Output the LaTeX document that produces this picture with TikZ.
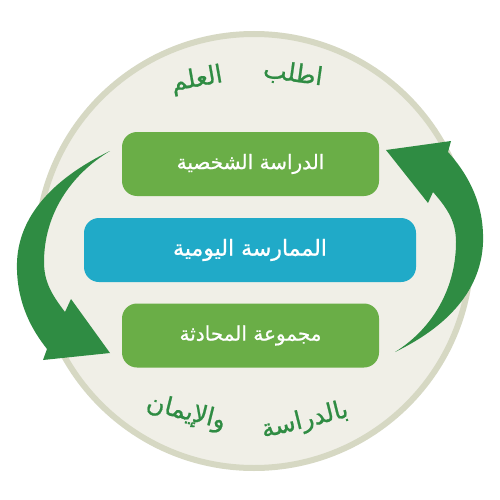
\documentclass[tikz,border=0pt]{standalone}
\usepackage{fontspec}
\newfontfamily\arabicfont[Script=Arabic,FakeBold=0.8]{DejaVu Sans}
\TeXXeTstate=1
\definecolor{ringfill}{HTML}{F0EFE7}
\definecolor{ringline}{HTML}{D6D8C3}
\definecolor{arrowgreen}{HTML}{2F8C43}
\definecolor{boxgreen}{HTML}{6AAE47}
\definecolor{boxblue}{HTML}{20AAC8}
\begin{document}
\begin{tikzpicture}[x=1pt,y=-1pt,
  box/.style={rounded corners=15pt,inner sep=0pt,text=white},
  greenbox/.style={box,fill=boxgreen,minimum width=257pt,minimum height=64pt,font=\arabicfont\fontsize{20}{24}\selectfont},
  bluebox/.style={box,fill=boxblue,minimum width=332pt,minimum height=64pt,font=\arabicfont\fontsize{22}{26}\selectfont},
  motto/.style={text=arrowgreen,inner sep=0pt,font=\arabicfont\fontsize{25}{30}\selectfont},
  bigarrow/.style={fill=arrowgreen,draw=none}]
\fill[white] (0,0) rectangle (500,500);
\useasboundingbox (0,0) rectangle (500,500);
\node[circle,fill=ringfill,draw=ringline,line width=6pt,minimum size=434pt,inner sep=0pt] (ring) at (254,251) {};
\node[greenbox] (study) at (250.5,164) {\beginR الدراسة الشخصية\endR};
\node[bluebox] (practice) at (250,250) {\beginR الممارسة اليومية\endR};
\node[greenbox] (group) at (250.5,335.5) {\beginR مجموعة المحادثة\endR};
\node[motto,rotate=-8] (w1) at (293,74) {\beginR اطلب\endR};
\node[motto,rotate=10] (w2) at (197,80) {\beginR العلم\endR};
\node[motto,rotate=14] (w3) at (305,421) {\beginR بالدراسة\endR};
\node[motto,rotate=-14] (w4) at (186,413) {\beginR والإيمان\endR};
% left arrow
\fill[bigarrow] (110,151) .. controls (50,180) and (15,220) .. (17,270)
  .. controls (18,305) and (32,330) .. (47,349) -- (43,360) -- (110,353) -- (71,299) -- (65,312)
  .. controls (52,295) and (44,282) .. (44,262)
  .. controls (44,215) and (70,175) .. (110,151) -- cycle;
% right arrow
\fill[bigarrow] (395,352) .. controls (453,324) and (485,284) .. (483,234)
  .. controls (482,199) and (466,172) .. (448,152) -- (451,141) -- (386,150) -- (428,203) -- (433,192)
  .. controls (448,209) and (456,222) .. (456,242)
  .. controls (456,289) and (432,329) .. (395,352) -- cycle;
\end{tikzpicture}
\end{document}
